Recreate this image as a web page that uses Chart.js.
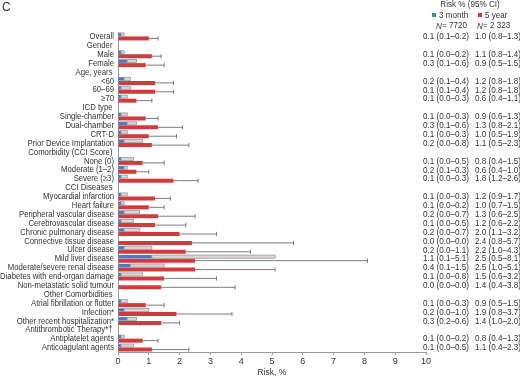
<!DOCTYPE html>
<html>
<head>
<meta charset="utf-8">
<script src="https://cdn.jsdelivr.net/npm/chart.js@4.4.1/dist/chart.umd.min.js"></script>
<style>
  html, body { margin: 0; padding: 0; background: #fff; }
  #wrap { width: 520px; height: 378px; position: relative; }
</style>
</head>
<body>
<div id="wrap"><canvas id="riskChart" width="520" height="378"></canvas></div>
<script>
// row labels (header rows have no data)
const labels = [
  'Overall', 'Gender', 'Male', 'Female', 'Age, years', '<60', '60–69', '≥70',
  'ICD type', 'Single-chamber', 'Dual-chamber', 'CRT-D', 'Prior Device Implantation',
  'Comorbidity (CCI Score)', 'None (0)', 'Moderate (1–2)', 'Severe (≥3)',
  'CCI Diseases', 'Myocardial infarction', 'Heart failure', 'Peripheral vascular disease',
  'Cerebrovascular disease', 'Chronic pulmonary disease', 'Connective tissue disease',
  'Ulcer disease', 'Mild liver disease', 'Moderate/severe renal disease',
  'Diabetes with end-organ damage', 'Non-metastatic solid tumour',
  'Other Comorbidities', 'Atrial fibrillation or flutter', 'Infection*',
  'Other recent hospitalization*', 'Antithrombotic Therapy*†',
  'Antiplatelet agents', 'Anticoagulant agents'
];

// 3 month risk % and 95% CI
const month3 = [0.1, null, 0.1, 0.3, null, 0.2, 0.1, 0.1, null, 0.1, 0.3, 0.1, 0.2,
  null, 0.1, 0.2, 0.1, null, 0.1, 0.1, 0.2, 0.1, 0.2, 0.0, 0.2, 1.1, 0.4, 0.1, 0.0,
  null, 0.1, 0.2, 0.3, null, 0.1, 0.1];
const month3Lo = [0.1, null, 0.0, 0.1, null, 0.1, 0.1, 0.0, null, 0.0, 0.1, 0.0, 0.0,
  null, 0.0, 0.1, 0.0, null, 0.0, 0.0, 0.0, 0.0, 0.0, 0.0, 0.0, 0.1, 0.1, 0.0, 0.0,
  null, 0.0, 0.0, 0.2, null, 0.0, 0.0];
const month3Hi = [0.2, null, 0.2, 0.6, null, 0.4, 0.4, 0.3, null, 0.3, 0.6, 0.3, 0.8,
  null, 0.5, 0.3, 0.3, null, 0.3, 0.2, 0.7, 0.5, 0.7, 0.0, 1.1, 5.1, 1.5, 0.8, 0.0,
  null, 0.3, 1.0, 0.6, null, 0.2, 0.5];

// 5 year risk % and 95% CI
const year5 = [1.0, null, 1.1, 0.9, null, 1.2, 1.2, 0.6, null, 0.9, 1.3, 1.0, 1.1,
  null, 0.8, 0.6, 1.8, null, 1.2, 1.0, 1.3, 1.2, 2.0, 2.4, 2.2, 2.5, 2.5, 1.5, 1.4,
  null, 0.9, 1.9, 1.4, null, 0.8, 1.1];
const year5Lo = [0.8, null, 0.8, 0.5, null, 0.8, 0.8, 0.4, null, 0.6, 0.8, 0.5, 0.5,
  null, 0.4, 0.4, 1.2, null, 0.9, 0.7, 0.6, 0.6, 1.1, 0.8, 1.0, 0.5, 1.0, 0.6, 0.4,
  null, 0.5, 0.8, 1.0, null, 0.4, 0.4];
const year5Hi = [1.3, null, 1.4, 1.5, null, 1.8, 1.8, 1.1, null, 1.3, 2.1, 1.9, 2.3,
  null, 1.5, 1.0, 2.6, null, 1.7, 1.5, 2.5, 2.2, 3.2, 5.7, 4.3, 8.1, 5.1, 3.2, 3.8,
  null, 1.5, 3.7, 2.0, null, 1.3, 2.3];

const xTicks = [0, 1, 2, 3, 4, 5, 6, 7, 8, 9, 10];

const FONT = "'Liberation Sans', Arial, sans-serif";
const BLUE = '#4d79c2';
const RED = '#d13b3e';
const SQUEEZE = 0.9; // the original type is a little narrower than Liberation Sans

function fmt(v, lo, hi) {
  if (v === null) return '';
  return v.toFixed(1) + ' (' + lo.toFixed(1) + '–' + hi.toFixed(1) + ')';
}

function squeezedText(ctx, text, x, y, font, align) {
  ctx.save();
  ctx.font = font;
  ctx.textAlign = align;
  ctx.textBaseline = 'middle';
  ctx.translate(x, y);
  ctx.scale(SQUEEZE, 1);
  ctx.fillText(text, 0, 0);
  ctx.restore();
}

// error bars drawn from the bar elements and the x scale
const errorBars = {
  id: 'errorBars',
  afterDatasetsDraw(chart) {
    const ctx = chart.ctx;
    const xs = chart.scales.x;
    const m3 = chart.getDatasetMeta(0).data;
    const y5 = chart.getDatasetMeta(1).data;
    ctx.save();
    month3.forEach((v, i) => {
      if (v === null || month3Hi[i] <= v) return;
      const bar = m3[i];
      const x0 = xs.getPixelForValue(v);
      const x1 = xs.getPixelForValue(month3Hi[i]);
      const h = bar.height - 0.4;
      ctx.fillStyle = '#ddd5d5';
      ctx.strokeStyle = '#9a9a9a';
      ctx.lineWidth = 0.8;
      ctx.fillRect(x0, bar.y - h / 2, x1 - x0, h);
      ctx.strokeRect(x0, bar.y - h / 2, x1 - x0, h);
    });
    ctx.strokeStyle = '#6f6f6f';
    ctx.lineWidth = 0.9;
    year5.forEach((v, i) => {
      if (v === null) return;
      const bar = y5[i];
      const x0 = xs.getPixelForValue(v);
      const x1 = xs.getPixelForValue(year5Hi[i]);
      ctx.beginPath();
      ctx.moveTo(x0, bar.y);
      ctx.lineTo(x1, bar.y);
      ctx.moveTo(x1, bar.y - 2.2);
      ctx.lineTo(x1, bar.y + 2.2);
      ctx.stroke();
    });
    ctx.restore();
  }
};

// row labels, right-hand table, header and panel letter
const sideText = {
  id: 'sideText',
  afterDraw(chart) {
    const ctx = chart.ctx;
    const ys = chart.scales.y;
    const left = chart.chartArea.left;
    const right = chart.chartArea.right;
    const f = '9px ' + FONT;
    ctx.save();
    ctx.fillStyle = '#333';
    labels.forEach((l, i) => {
      const y = ys.getPixelForValue(i) + 0.3;
      // header rows (no data) sit a touch further left
      const lx = month3[i] === null ? left - 5.5 : left - 4;
      squeezedText(ctx, l, lx, y, '8.6px ' + FONT, 'right');
      squeezedText(ctx, fmt(month3[i], month3Lo[i], month3Hi[i]), right - 3, y, f, 'left');
      squeezedText(ctx, fmt(year5[i], year5Lo[i], year5Hi[i]), right + 49, y, f, 'left');
    });
    squeezedText(ctx, 'Risk % (95% CI)', 470, 5, f, 'center');
    // legend
    ctx.fillStyle = '#2a9a8c';
    ctx.fillRect(432, 13, 4, 4);
    ctx.fillStyle = RED;
    ctx.fillRect(478, 13, 4, 4);
    ctx.fillStyle = '#333';
    squeezedText(ctx, '3 month', 439, 15.5, f, 'left');
    squeezedText(ctx, '5 year', 485, 15.5, f, 'left');
    squeezedText(ctx, 'N', 436, 26, 'italic ' + f, 'left');
    squeezedText(ctx, 'N', 477, 26, 'italic ' + f, 'left');
    squeezedText(ctx, '= 7720', 442, 26, f, 'left');
    squeezedText(ctx, '= 2 323', 483, 26, f, 'left');
    ctx.font = '12px ' + FONT;
    ctx.textBaseline = 'middle';
    ctx.fillText('C', 2, 8);
    ctx.restore();
  }
};

new Chart(document.getElementById('riskChart'), {
  type: 'bar',
  data: {
    labels: labels,
    datasets: [
      {
        label: '3 month',
        data: month3,
        backgroundColor: BLUE,
        categoryPercentage: 0.9,
        barPercentage: 0.88
      },
      {
        label: '5 year',
        data: year5,
        backgroundColor: RED,
        categoryPercentage: 0.9,
        barPercentage: 1.0
      }
    ]
  },
  options: {
    indexAxis: 'y',
    responsive: false,
    animation: false,
    layout: { padding: { top: 32, right: 94, left: 0, bottom: 0 } },
    scales: {
      x: {
        min: 0,
        max: 10,
        afterBuildTicks(scale) {
          scale.ticks = xTicks.map(v => ({ value: v }));
        },
        grid: { display: true, drawOnChartArea: false, drawTicks: true, tickLength: 3, color: '#999' },
        border: { display: true, color: '#999' },
        ticks: { color: '#333', font: { family: FONT, size: 9 }, padding: 1, maxRotation: 0 },
        title: { display: true, text: 'Risk, %', color: '#333', font: { family: FONT, size: 8.5 }, padding: { top: 0, bottom: 0 } }
      },
      y: {
        grid: { display: false },
        border: { display: true, color: '#999' },
        afterFit(scale) { scale.width = 118; },
        ticks: { display: false }
      }
    },
    plugins: {
      legend: { display: false },
      tooltip: { enabled: false }
    }
  },
  plugins: [errorBars, sideText]
});
</script>
</body>
</html>
